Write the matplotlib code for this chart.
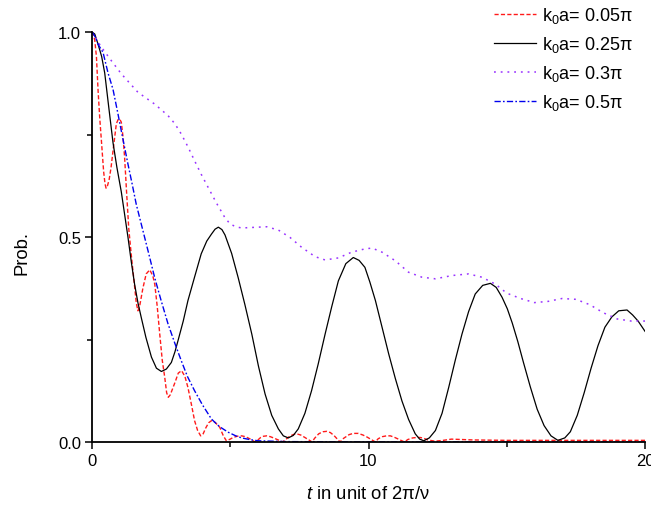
import matplotlib
matplotlib.use("Agg")
import matplotlib.pyplot as plt

plt.rcParams['font.family'] = ['Liberation Sans', 'DejaVu Sans']
plt.rcParams['mathtext.fontset'] = 'custom'
plt.rcParams['mathtext.rm'] = 'Liberation Sans'
plt.rcParams['mathtext.it'] = 'Liberation Sans:italic'

# ---- data ----
t_red = [0, 0.05, 0.1, 0.16, 0.22, 0.28, 0.34, 0.42, 0.47, 0.51, 0.56, 0.62, 0.69, 0.76, 0.88,
         0.94, 1.0, 1.06, 1.12, 1.18, 1.25, 1.33, 1.43, 1.54, 1.60, 1.66, 1.72, 1.84, 1.96,
         2.09, 2.2, 2.27, 2.36, 2.45, 2.54, 2.63, 2.7, 2.76, 2.83, 3.0, 3.12, 3.24, 3.36, 3.47,
         3.6, 3.71, 3.82, 3.93, 4.02, 4.12, 4.22, 4.32, 4.45, 4.62, 4.75, 4.86,
         5.0, 5.1, 5.25, 5.41, 5.55, 5.7, 5.9, 6.0, 6.1, 6.2, 6.32, 6.45, 6.6, 6.9, 7.0, 7.15,
         7.27, 7.40, 7.55, 7.7, 7.96, 8.05, 8.2, 8.35, 8.49, 8.62, 8.75, 8.97, 9.1, 9.3, 9.45,
         9.63, 9.8, 9.95, 10.25, 10.35, 10.5, 10.65, 10.79, 10.92, 11.05, 11.3, 11.42, 11.6,
         11.75, 11.87, 12.0, 12.15, 12.4, 12.7, 13.0, 13.4, 13.8, 15.0, 17.0, 20.0]
p_red = [1.0, 0.995, 0.98, 0.94, 0.857, 0.79, 0.735, 0.66, 0.63, 0.619, 0.625, 0.64, 0.67,
         0.71, 0.776, 0.786, 0.788, 0.78, 0.745, 0.694, 0.61, 0.52, 0.45, 0.38, 0.34, 0.32,
         0.33, 0.375, 0.41, 0.42, 0.405, 0.385, 0.33, 0.263, 0.2, 0.158, 0.12, 0.109, 0.115,
         0.145, 0.168, 0.174, 0.16, 0.133, 0.09, 0.052, 0.028, 0.015, 0.02, 0.035, 0.047,
         0.052, 0.048, 0.036, 0.015, 0.003,
         0.007, 0.011, 0.014, 0.015, 0.013, 0.008, 0.0, 0.005, 0.011, 0.014, 0.015, 0.013,
         0.009, 0.0, 0.006, 0.014, 0.018, 0.02, 0.017, 0.011, 0.0, 0.009, 0.02, 0.025, 0.026,
         0.023, 0.016, 0.0, 0.009, 0.018, 0.021, 0.021, 0.017, 0.012, 0.0, 0.008, 0.013,
         0.015, 0.015, 0.012, 0.008, 0.0, 0.006, 0.01, 0.011, 0.011, 0.009, 0.005, 0.002,
         0.004, 0.007, 0.006, 0.005, 0.004, 0.004, 0.004]

t_black = [0, 0.1, 0.22, 0.35, 0.46, 0.6, 0.76, 0.9, 1.06, 1.18, 1.30, 1.42, 1.54, 1.66, 1.78,
           1.95, 2.15, 2.33, 2.51, 2.69, 2.87, 3.0, 3.11, 3.3, 3.47, 3.7, 3.95, 4.15, 4.32,
           4.45, 4.57, 4.7, 4.81, 5.05, 5.29, 5.53, 5.78, 6.02, 6.26, 6.5, 6.74, 6.92, 7.10,
           7.28, 7.46, 7.7, 7.94, 8.18, 8.43, 8.67, 8.91, 9.18, 9.45, 9.66, 9.87, 10.05, 10.25,
           10.49, 10.73, 10.97, 11.21, 11.45, 11.69, 11.85, 12.0, 12.2, 12.42, 12.66, 12.90,
           13.14, 13.38, 13.62, 13.86, 14.13, 14.41, 14.62, 14.83, 15.02, 15.2, 15.4, 15.6,
           15.85, 16.1, 16.35, 16.6, 16.85, 17.1, 17.3, 17.55, 17.8, 18.05, 18.3, 18.55, 18.8,
           19.05, 19.35, 19.55, 19.75, 20.0]
p_black = [1.0, 0.995, 0.97, 0.94, 0.90, 0.82, 0.73, 0.67, 0.61, 0.555, 0.50, 0.44, 0.385,
           0.34, 0.304, 0.255, 0.207, 0.18, 0.172, 0.178, 0.194, 0.22, 0.247, 0.295, 0.345,
           0.40, 0.459, 0.49, 0.507, 0.519, 0.524, 0.518, 0.505, 0.46, 0.40, 0.335, 0.263,
           0.185, 0.117, 0.065, 0.032, 0.015, 0.010, 0.016, 0.032, 0.07, 0.125, 0.19, 0.263,
           0.33, 0.393, 0.435, 0.450, 0.443, 0.426, 0.39, 0.345, 0.28, 0.215, 0.155, 0.10,
           0.055, 0.02, 0.007, 0.003, 0.01, 0.028, 0.07, 0.133, 0.2, 0.263, 0.318, 0.361,
           0.382, 0.387, 0.377, 0.353, 0.325, 0.29, 0.245, 0.195, 0.135, 0.08, 0.04, 0.015,
           0.004, 0.01, 0.025, 0.065, 0.12, 0.18, 0.235, 0.28, 0.305, 0.32, 0.322, 0.31,
           0.295, 0.27]

t_purple = [0, 0.34, 0.7, 1.06, 1.66, 2.27, 2.75, 3.0, 3.23, 3.47, 3.71, 3.95, 4.20, 4.50, 4.80,
            4.99, 5.2, 5.41, 6.01, 6.32, 6.74, 7.16, 7.58, 8.07, 8.43, 8.91, 9.39, 9.87, 10.13,
            10.49, 10.97, 11.45, 11.93, 12.42, 13.02, 13.62, 14.10, 14.59, 15.0, 15.5, 16.0,
            16.5, 17.0, 17.5, 18.0, 18.5, 19.0, 19.5, 20.0]
p_purple = [1.0, 0.963, 0.93, 0.898, 0.853, 0.824, 0.796, 0.776, 0.751, 0.72, 0.686, 0.653,
            0.621, 0.583, 0.548, 0.532, 0.525, 0.522, 0.524, 0.525, 0.517, 0.499, 0.475,
            0.452, 0.444, 0.449, 0.463, 0.471, 0.473, 0.463, 0.442, 0.414, 0.402, 0.398,
            0.406, 0.41, 0.402, 0.385, 0.363, 0.35, 0.34, 0.343, 0.35, 0.348, 0.335, 0.315,
            0.30, 0.295, 0.295]

t_blue = [0, 0.1, 0.22, 0.4, 0.58, 0.76, 0.94, 1.1, 1.30, 1.45, 1.60, 1.75, 1.90, 2.05, 2.27,
          2.5, 2.75, 3.0, 3.23, 3.45, 3.71, 4.0, 4.32, 4.6, 4.92, 5.2, 5.41, 5.7, 6.0, 7.0,
          10.0, 20.0]
p_blue = [1.0, 0.99, 0.97, 0.95, 0.90, 0.86, 0.80, 0.745, 0.678, 0.63, 0.58, 0.54, 0.50, 0.46,
          0.40, 0.345, 0.288, 0.24, 0.198, 0.16, 0.125, 0.09, 0.056, 0.038, 0.024, 0.015,
          0.01, 0.006, 0.003, 0.001, 0.0, 0.0]

labels = [r"k$_0$a= 0.05π", r"k$_0$a= 0.25π", r"k$_0$a= 0.3π", r"k$_0$a= 0.5π"]
x_ticks = [0, 10, 20]
y_ticks = [0.0, 0.5, 1.0]

# ---- figure ----
fig = plt.figure(figsize=(6.51, 5.06), dpi=100)
ax = fig.add_axes([92 / 651, 1 - 443 / 506, (645 - 92) / 651, (443 - 33) / 506])

ax.plot(t_red, p_red, color='#ff1a1a', lw=1.0, dashes=(3.0, 1.6), label=labels[0])
ax.plot(t_black, p_black, color='black', lw=0.9, label=labels[1])
ax.plot(t_purple, p_purple, color='#9933ff', lw=1.1, dashes=(1.2, 3.2), label=labels[2])
ax.plot(t_blue, p_blue, color='#0000ee', lw=1.0, dashes=(4.5, 1.6, 1.2, 1.6), label=labels[3])

ax.set_xlim(0, 20)
ax.set_ylim(0, 1)
ax.set_xticks(x_ticks)
ax.set_xticklabels([str(v) for v in x_ticks])
ax.set_yticks(y_ticks)
ax.set_yticklabels([f"{v:.1f}" for v in y_ticks])
ax.set_xticks([5, 15], minor=True)
ax.set_yticks([0.25, 0.75], minor=True)

for s in ['top', 'right']:
    ax.spines[s].set_visible(False)
for s in ['left', 'bottom']:
    ax.spines[s].set_linewidth(1.3)
ax.tick_params(which='major', direction='out', length=5, width=1.1, labelsize=12, pad=3)
ax.tick_params(which='minor', direction='out', length=3.5, width=1.1)

ax.set_xlabel(r"$t$ in unit of 2π/ν", fontsize=13.3, labelpad=12)
ax.set_ylabel("Prob.", fontsize=13.3)
ax.yaxis.set_label_coords(-0.112, 0.463)

leg = fig.legend(loc='upper right', bbox_to_anchor=(0.997, 1.02), frameon=False, fontsize=13,
                 handlelength=2.3, handletextpad=0.35, labelspacing=0.5)

fig.savefig("out.png", dpi=100)
